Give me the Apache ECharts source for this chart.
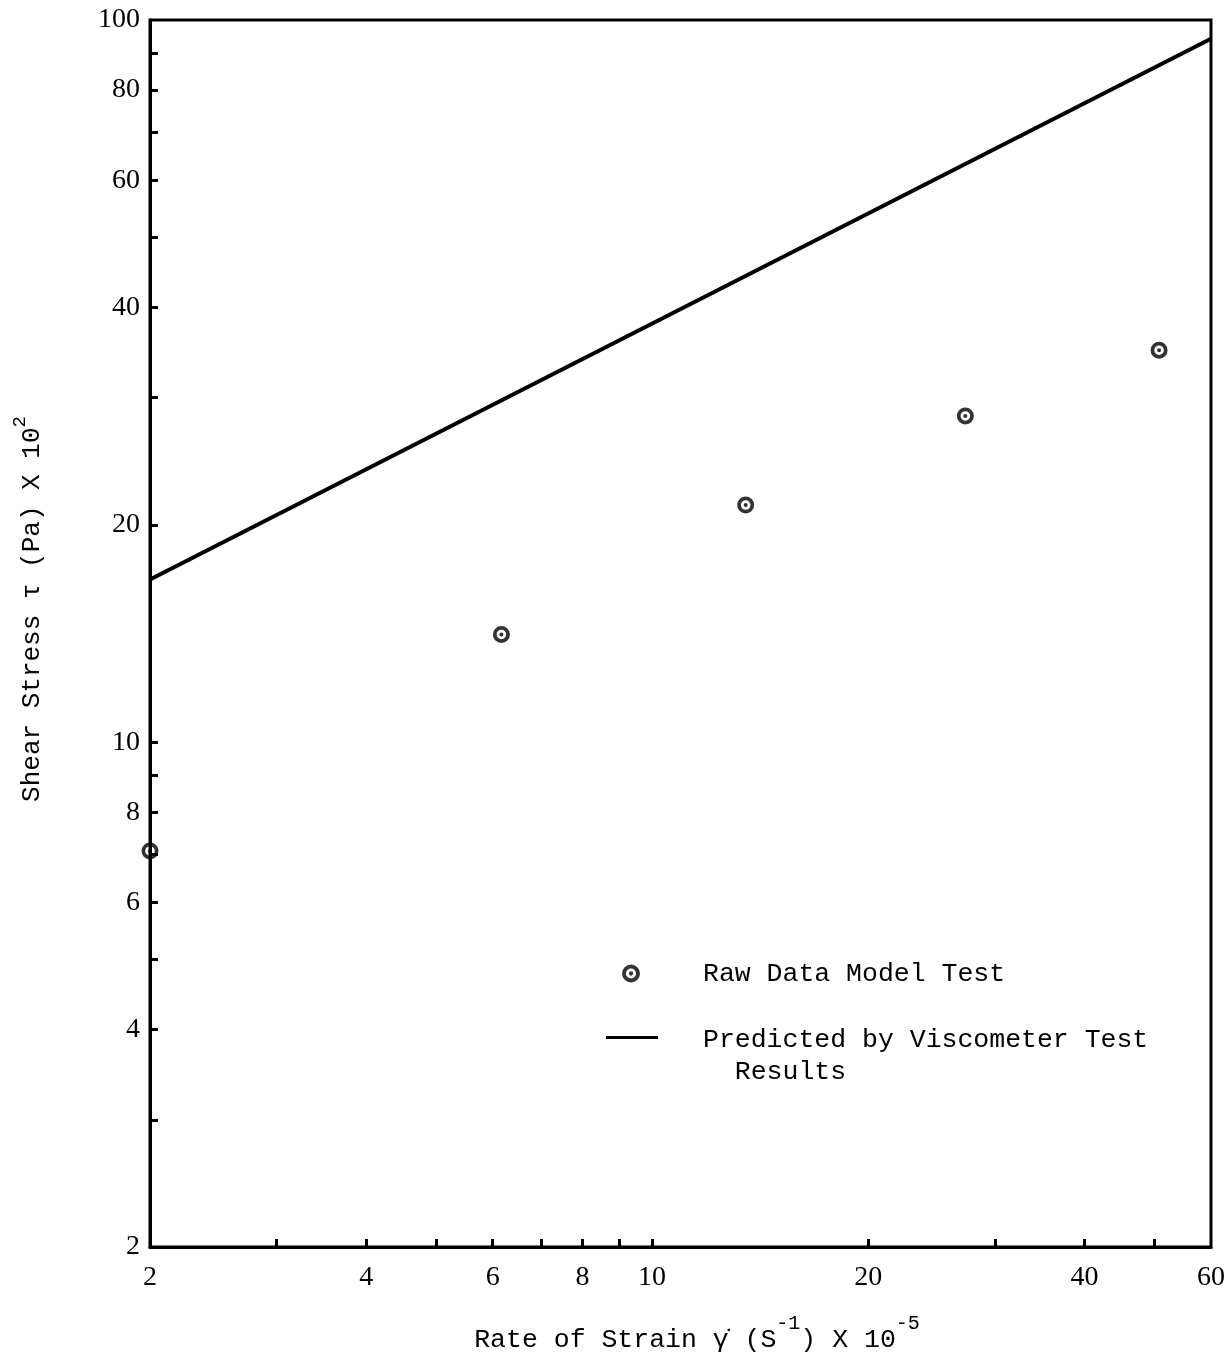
<!DOCTYPE html>
<html>
<head>
<meta charset="utf-8">
<script src="https://cdn.jsdelivr.net/npm/echarts@6/dist/echarts.min.js"></script>
<style>
html,body{margin:0;padding:0;background:#fff;}
#chart{width:1231px;height:1362px;}
</style>
</head>
<body>
<div id="chart"></div>
<script>
// Raw data model test points (rate of strain x1e-5, shear stress x1e2)
const rawStrain = [2.0, 6.17, 13.5, 27.3, 50.8];
const rawStress = [7.07, 14.1, 21.3, 28.3, 34.9];
// Predicted line by viscometer test results (end points)
const predStrain = [2, 60];
const predStress = [16.8, 94.2];
// Axis ticks and labels
const xLabels = [2, 4, 6, 8, 10, 20, 40, 60];
const xTicks = [3, 4, 5, 6, 7, 8, 9, 10, 20, 30, 40, 50];
const yLabels = [2, 4, 6, 8, 10, 20, 40, 60, 80, 100];
const yTicks = [3, 4, 5, 6, 7, 8, 9, 10, 20, 30, 40, 50, 60, 70, 80, 90];

const chart = echarts.init(document.getElementById('chart'), null, {renderer: 'canvas'});
const MONO = '"Liberation Mono", "DejaVu Sans Mono", monospace';
const SERIF = '"Liberation Serif", "DejaVu Serif", serif';
const markerPath = 'path://M0,-8 A8,8 0 1,1 0,8 A8,8 0 1,1 0,-8 Z M0,-4.5 A4.5,4.5 0 1,0 0,4.5 A4.5,4.5 0 1,0 0,-4.5 Z M0,-1.9 A1.9,1.9 0 1,1 0,1.9 A1.9,1.9 0 1,1 0,-1.9 Z';
// legend line icon: bar near the top of a taller invisible box so it sits beside the first text line
const lineIcon = 'path://M0,0 M0,67 M0,14 L52,14 L52,17 L0,17 Z';

const option = {
  backgroundColor: '#fff',
  animation: false,
  grid: {left: 150, right: 20, top: 20, bottom: 115, show: true, borderColor: '#000', borderWidth: 3, backgroundColor: 'transparent'},
  xAxis: {
    type: 'log', logBase: 10, min: 2, max: 60,
    axisLine: {show: true, lineStyle: {color: '#000', width: 3}},
    axisTick: {show: true, inside: true, length: 8, lineStyle: {color: '#000', width: 3}, customValues: xTicks},
    axisLabel: {show: true, customValues: xLabels, margin: 17, color: '#000', fontFamily: SERIF, fontSize: 28},
    splitLine: {show: false}, minorTick: {show: false}
  },
  yAxis: {
    type: 'log', logBase: 10, min: 2, max: 100,
    axisLine: {show: true, lineStyle: {color: '#000', width: 3}},
    axisTick: {show: true, inside: true, length: 8, lineStyle: {color: '#000', width: 3}, customValues: yTicks},
    axisLabel: {show: true, customValues: yLabels, margin: 10, color: '#000', fontFamily: SERIF, fontSize: 28},
    splitLine: {show: false}, minorTick: {show: false}
  },
  legend: [
    {
      data: [{name: 'Raw Data Model Test', icon: markerPath}],
      left: 617, top: 955, itemWidth: 18, itemHeight: 18, itemGap: 0,
      textStyle: {color: '#000', fontFamily: MONO, fontSize: 26.5, padding: [0, 0, 0, 58]},
      selectedMode: false
    },
    {
      data: [{name: 'Predicted by Viscometer Test', icon: lineIcon}],
      left: 606, top: 1022, padding: 0, itemWidth: 52, itemHeight: 67,
      formatter: function () { return 'Predicted by Viscometer Test\n  Results'; },
      textStyle: {color: '#000', fontFamily: MONO, fontSize: 26.5, lineHeight: 32, padding: [0, 0, 0, 40]},
      selectedMode: false
    }
  ],
  series: [
    {
      name: 'Predicted by Viscometer Test', type: 'line',
      data: predStrain.map((x, i) => [x, predStress[i]]),
      showSymbol: false, symbol: 'none',
      lineStyle: {color: '#000', width: 4},
      itemStyle: {color: '#000'},
      silent: true, clip: false
    },
    {
      name: 'Raw Data Model Test', type: 'scatter',
      data: rawStrain.map((x, i) => [x, rawStress[i]]),
      symbol: markerPath, symbolSize: 17,
      itemStyle: {color: '#000'},
      clip: false
    }
  ],
  graphic: [
    {
      type: 'text', x: 697, y: 1340,
      style: {
        text: '{t|Rate of Strain }{g|γ̇}{t| (S}{s|-1}{t|) X 10}{s|-5}',
        align: 'center', verticalAlign: 'middle',
        rich: {
          t: {fontFamily: MONO, fontSize: 26.5, fill: '#000'},
          g: {fontFamily: MONO, fontSize: 26.5, fill: '#000'},
          s: {fontFamily: MONO, fontSize: 20, fill: '#000', verticalAlign: 'top', padding: [0, 0, 32, 0]}
        }
      }
    },
    {
      type: 'text', x: 32, y: 609, rotation: Math.PI / 2,
      style: {
        text: '{t|Shear Stress τ (Pa) X 10}{s|2}',
        align: 'center', verticalAlign: 'middle',
        rich: {
          t: {fontFamily: MONO, fontSize: 26, fill: '#000'},
          s: {fontFamily: MONO, fontSize: 19, fill: '#000', verticalAlign: 'top', padding: [0, 0, 24, 0]}
        }
      }
    }
  ]
};
chart.setOption(option);
</script>
</body>
</html>
